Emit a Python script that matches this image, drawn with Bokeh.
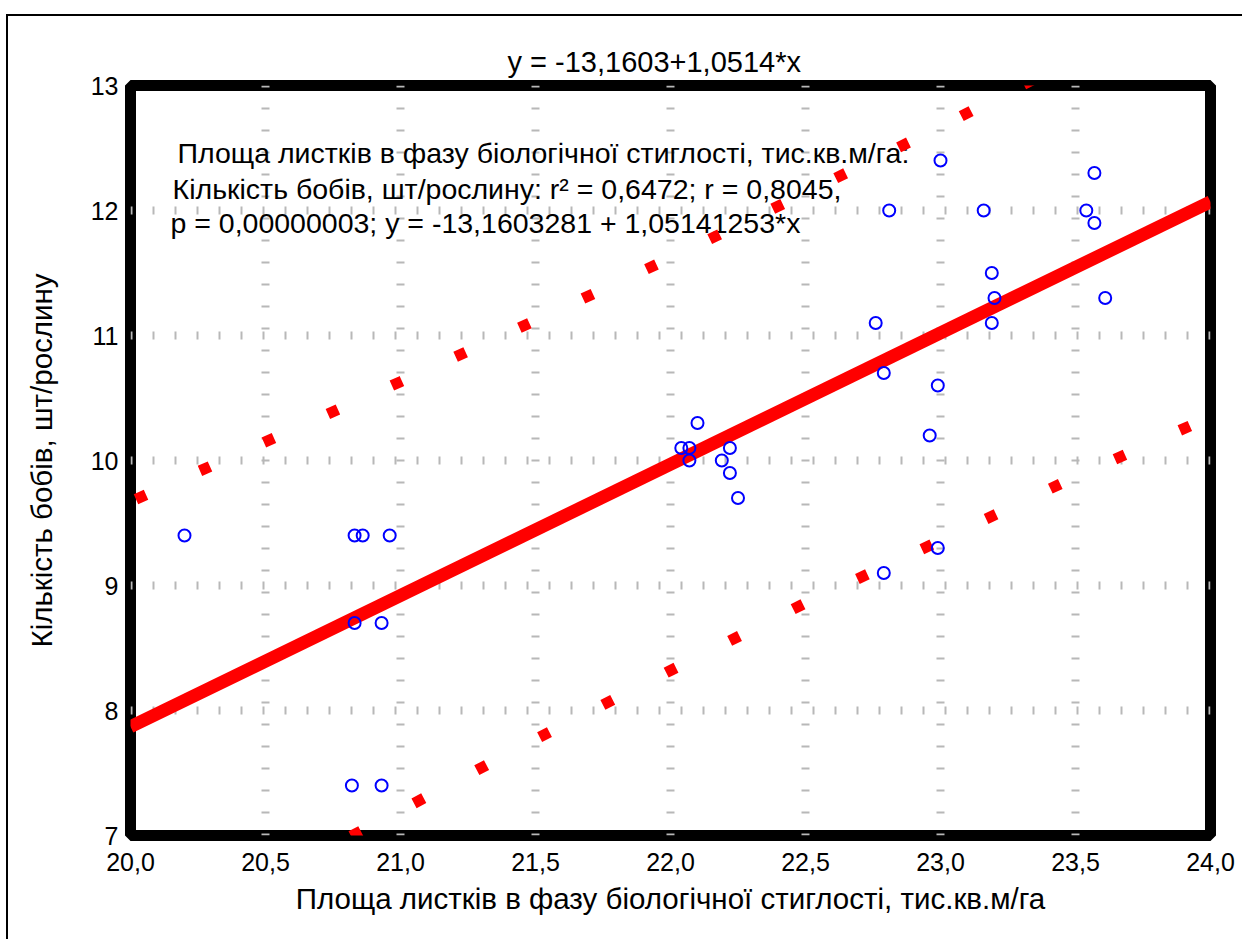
from bokeh.plotting import figure
from bokeh.models import FixedTicker, CustomJSTickFormatter, ColumnDataSource
from bokeh.embed import file_html
from bokeh.resources import INLINE
from bokeh.core.properties import value

FONT = "Liberation Sans"

# ---- data ----
x_pts = [20.20, 20.83, 20.86, 20.96, 20.83, 20.93, 20.82, 20.93,
         22.10, 22.04, 22.07, 22.07, 22.22, 22.19, 22.22, 22.25,
         22.76, 22.79, 22.79, 22.81, 23.00, 22.99, 22.96, 22.99,
         23.16, 23.19, 23.20, 23.19, 23.57, 23.54, 23.57, 23.61]
y_pts = [9.4, 9.4, 9.4, 9.4, 8.7, 8.7, 7.4, 7.4,
         10.3, 10.1, 10.1, 10.0, 10.1, 10.0, 9.9, 9.7,
         11.1, 10.7, 9.1, 12.0, 12.4, 10.6, 10.2, 9.3,
         12.0, 11.5, 11.3, 11.1, 12.3, 12.0, 11.9, 11.3]

fit_x = [20.0, 24.0]
fit_y = [7.87, 12.07]

band_x = [20.0, 20.5, 21.0, 21.5, 22.0, 22.5, 23.0, 23.5, 24.0]
band_upper = [9.67, 10.15, 10.63, 11.12, 11.62, 12.14, 12.67, 13.22, 13.79]
band_lower = [6.07, 6.64, 7.20, 7.77, 8.32, 8.86, 9.36, 9.87, 10.35]

x_ticks = [20.0, 20.5, 21.0, 21.5, 22.0, 22.5, 23.0, 23.5, 24.0]
y_ticks = [7, 8, 9, 10, 11, 12, 13]

title_text = "y = -13,1603+1,0514*x"
x_label = "Площа листків в фазу біологічної стиглості, тис.кв.м/га"
y_label = "Кількість бобів, шт/рослину"
note_lines = [" Площа листків в фазу біологічної стиглості, тис.кв.м/га:",
              "Кількість бобів, шт/рослину: r² = 0,6472; r = 0,8045,",
              "p = 0,00000003; y = -13,1603281 + 1,05141253*x"]
note_x = [20.174, 20.156, 20.148]
note_y = [12.464, 12.176, 11.904]

p = figure(width=1236, height=925, x_range=(20, 24), y_range=(7, 13),
           output_backend="svg", toolbar_location=None,
           min_border_left=122, min_border_right=34,
           min_border_top=69, min_border_bottom=106,
           title=title_text)
p.styles = {"margin-top": "14px", "margin-left": "6px",
            "border-top": "2px solid black",
            "border-left": "2px solid black"}

p.title.text_font = FONT
p.title.text_font_size = "29px"
p.title.text_font_style = "normal"
p.title.text_color = "black"
p.title.align = "left"
p.title.offset = 377
p.title.standoff = 16

p.background_fill_color = "white"
p.border_fill_color = "white"
p.outline_line_color = "black"
p.outline_line_width = 11

for ax in (p.xaxis[0], p.yaxis[0]):
    ax.axis_line_color = None
    ax.major_tick_line_color = None
    ax.minor_tick_line_color = None
    ax.major_tick_out = 0
    ax.major_tick_in = 0
    ax.major_label_text_font = FONT
    ax.major_label_text_font_size = "25px"
    ax.major_label_text_color = "black"
    ax.axis_label_text_font = FONT
    ax.axis_label_text_font_size = "29.5px"
    ax.axis_label_text_font_style = "normal"
    ax.axis_label_text_color = "black"

p.xaxis.ticker = FixedTicker(ticks=x_ticks)
p.yaxis.ticker = FixedTicker(ticks=y_ticks)
p.xaxis.formatter = CustomJSTickFormatter(code="return tick.toFixed(1).replace('.', ',');")
p.xaxis.major_label_standoff = 17
p.yaxis.major_label_standoff = 12
p.xaxis.axis_label = x_label
p.yaxis.axis_label = y_label
p.xaxis.axis_label_standoff = 8
p.yaxis.axis_label_standoff = 30

p.xgrid.ticker = FixedTicker(ticks=x_ticks)
p.ygrid.ticker = FixedTicker(ticks=y_ticks)
for g in (p.xgrid[0], p.ygrid[0]):
    g.grid_line_color = "#b8b8b8"
    g.grid_line_width = 8
    g.grid_line_dash = "2 20"

# annotation text (under the lines)
p.text(x=note_x, y=note_y, text=note_lines, text_font=value(FONT),
       text_font_size="28.5px", text_baseline="middle", text_align="left",
       text_color="black")

# regression line
p.line(fit_x, fit_y, line_color="#ff0000", line_width=13)

# prediction bands
p.line(band_x, band_upper, line_color="#ff0000", line_width=11,
       line_dash="11 59", line_dash_offset=64)
p.line(band_x, band_lower, line_color="#ff0000", line_width=11,
       line_dash="11 60", line_dash_offset=35)

# points
src = ColumnDataSource(dict(x=x_pts, y=y_pts))
p.scatter("x", "y", source=src, marker="circle", size=12, fill_color=None,
          line_color="#0000ff", line_width=2)

open("out.html", "w").write(file_html(p, INLINE))
